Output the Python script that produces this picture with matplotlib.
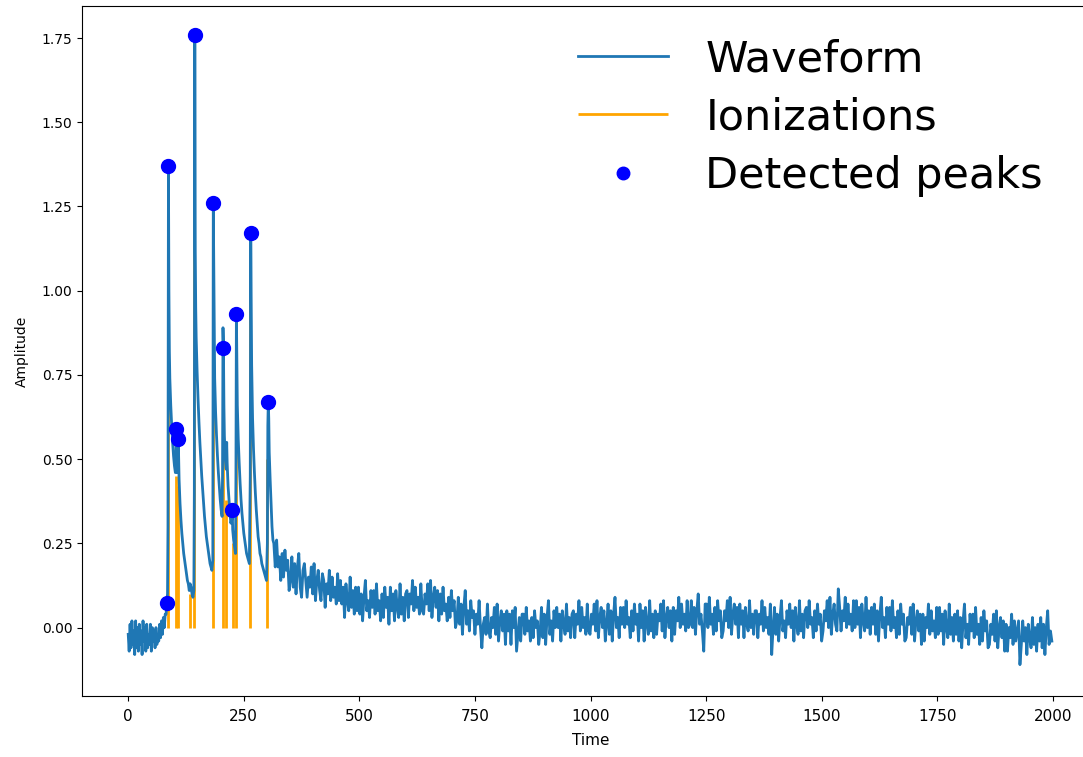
import numpy as np
import matplotlib
matplotlib.use("Agg")
import matplotlib.pyplot as plt

# baseline before the first pulse (t = 0, 2, ..., 80)
pre_t = np.arange(0, 81, 2)
pre_v = [-0.02, -0.07, 0.01, -0.06, 0.02, -0.05, -0.01, -0.08, 0.02, -0.06,
         0.00, -0.07, 0.01, -0.05, -0.01, -0.08, 0.02, -0.04, 0.00, -0.07,
         0.01, -0.06, -0.02, -0.05, 0.01, -0.07, 0.00, -0.04, -0.01, -0.06,
         0.00, -0.05, -0.02, -0.04, 0.01, -0.03, 0.02, -0.02, 0.03, 0.00, 0.04]

# pulse train
pulse_t = [82, 83, 85, 86, 87, 88, 89, 90, 92, 94, 96, 98, 100, 102, 103, 104,
           105, 106, 107, 108, 109, 110, 112, 114, 116, 118, 120, 122, 124, 126,
           128, 130, 132, 134, 136, 138, 140, 142, 143, 144, 145, 146, 147, 149,
           151, 153, 155, 157, 159, 161, 163, 165, 167, 169, 171, 173, 175, 177,
           179, 181, 183, 184, 185, 186, 187, 189, 191, 193, 195, 197, 199, 201,
           203, 204, 205, 206, 207, 208, 210, 212, 213, 214, 216, 218, 220, 222,
           224, 225, 226, 228, 230, 232, 233, 234, 235, 236, 238, 240, 242, 244,
           246, 248, 250, 252, 254, 256, 258, 260, 262, 264, 265, 266, 267, 269,
           271, 273, 275, 277, 279, 281, 283, 285, 287, 289, 291, 293, 295, 297,
           299, 301, 302, 303, 304, 305, 307, 309, 311, 313]
pulse_v = [0.04, 0.07, 0.10, 0.30, 1.37, 1.00, 0.82, 0.74, 0.66, 0.60, 0.55, 0.51,
           0.48, 0.46, 0.50, 0.59, 0.52, 0.46, 0.48, 0.56, 0.51, 0.44, 0.37, 0.32,
           0.28, 0.25, 0.22, 0.20, 0.18, 0.16, 0.14, 0.13, 0.11, 0.13, 0.12, 0.10,
           0.09, 0.11, 0.40, 1.76, 1.12, 0.95, 0.86, 0.76, 0.68, 0.61, 0.55, 0.50,
           0.45, 0.41, 0.37, 0.33, 0.30, 0.27, 0.25, 0.23, 0.21, 0.19, 0.18, 0.17,
           0.20, 1.26, 1.08, 0.86, 0.74, 0.64, 0.57, 0.51, 0.46, 0.42, 0.38, 0.35,
           0.33, 0.45, 0.89, 0.83, 0.66, 0.57, 0.50, 0.47, 0.55, 0.49, 0.42, 0.38,
           0.34, 0.31, 0.32, 0.35, 0.29, 0.26, 0.24, 0.22, 0.45, 0.93, 0.78, 0.66,
           0.56, 0.49, 0.43, 0.38, 0.34, 0.31, 0.28, 0.26, 0.24, 0.22, 0.21, 0.20,
           0.19, 0.45, 1.17, 0.95, 0.78, 0.62, 0.53, 0.46, 0.40, 0.35, 0.31, 0.27,
           0.25, 0.22, 0.21, 0.19, 0.18, 0.17, 0.16, 0.15, 0.14, 0.25, 0.60, 0.67,
           0.62, 0.52, 0.44, 0.37, 0.30, 0.26]

# tail (t = 315, 318, ..., 1998)
tail_t = np.arange(315, 1999, 3)
tail_v = [
    0.25, 0.18, 0.26, 0.18, 0.21, 0.14, 0.22, 0.15, 0.23, 0.17, 0.20, 0.11,
    0.14, 0.21, 0.12, 0.19, 0.10, 0.18, 0.22, 0.12, 0.09, 0.17, 0.19, 0.14,
    0.09, 0.15, 0.12, 0.18, 0.10, 0.19, 0.08, 0.14, 0.17, 0.11, 0.08, 0.16,
    0.14, 0.06, 0.13, 0.10, 0.17, 0.08, 0.15, 0.09, 0.12, 0.07, 0.16, 0.08,
    0.14, 0.07, 0.12, 0.03, 0.13, 0.08, 0.05, 0.15, 0.06, 0.11, 0.04, 0.12,
    0.05, 0.12, 0.04, 0.10, 0.02, 0.09, 0.14, 0.05, 0.08, 0.03, 0.11, 0.06,
    0.11, 0.04, 0.13, 0.05, 0.08, 0.02, 0.10, 0.03, 0.12, 0.06, 0.09, 0.01,
    0.12, 0.05, 0.10, 0.02, 0.11, 0.06, 0.03, 0.13, 0.04, 0.09, 0.02, 0.10,
    0.11, 0.03, 0.10, 0.07, 0.14, 0.05, 0.12, 0.06, 0.09, 0.04, 0.13, 0.05,
    0.04, 0.10, 0.07, 0.13, 0.05, 0.14, 0.03, 0.09, 0.12, 0.06, 0.11, 0.02,
    0.10, 0.04, 0.12, 0.05, 0.07, 0.02, 0.09, 0.03, 0.11, 0.05, 0.08, 0.00,
    0.02, 0.09, 0.01, 0.07, -0.02, 0.06, 0.11, 0.01, 0.05, -0.01, 0.08, 0.03,
    0.05, -0.02, 0.04, 0.01, 0.08, 0.00, -0.06, 0.01, 0.03, -0.02, 0.07, -0.01,
    -0.03, 0.03, 0.00, 0.06, -0.02, 0.07, -0.04, 0.02, 0.05, -0.01, 0.04, -0.05,
    0.05, -0.01, 0.04, -0.05, 0.05, 0.00, 0.06, -0.07, -0.02, 0.03, -0.04, 0.04,
    0.04, -0.02, 0.06, -0.01, 0.02, -0.04, 0.03, -0.03, 0.05, 0.00, 0.02, -0.05,
    -0.01, 0.06, -0.03, 0.04, -0.05, 0.03, 0.08, -0.02, 0.02, -0.04, 0.05, 0.00,
    0.06, 0.00, 0.04, -0.04, 0.05, 0.01, -0.02, 0.07, -0.01, 0.03, -0.03, 0.04,
    0.05, -0.03, 0.04, 0.01, 0.08, -0.01, 0.06, 0.00, 0.03, -0.02, 0.07, -0.01,
    -0.02, 0.04, 0.01, 0.07, -0.01, 0.08, -0.03, 0.03, 0.06, 0.00, 0.05, -0.04,
    0.01, 0.07, -0.02, 0.05, -0.04, 0.04, 0.09, 0.00, 0.03, -0.03, 0.06, 0.01,
    0.06, 0.00, 0.08, 0.01, 0.03, -0.03, 0.05, -0.01, 0.07, 0.01, 0.04, -0.04,
    0.07, 0.00, 0.05, -0.04, 0.06, 0.01, -0.02, 0.08, -0.01, 0.04, -0.03, 0.05,
    -0.02, 0.04, 0.02, 0.07, -0.01, 0.08, -0.03, 0.03, 0.06, 0.00, 0.05, -0.04,
    0.06, -0.02, 0.05, 0.02, 0.09, 0.00, 0.07, 0.01, 0.04, -0.01, 0.08, 0.00,
    0.01, 0.08, 0.00, 0.06, -0.02, 0.05, 0.10, 0.01, 0.04, -0.01, -0.07, 0.07,
    0.07, 0.00, 0.09, 0.01, 0.04, -0.02, 0.06, -0.01, 0.08, 0.02, 0.05, -0.03,
    -0.01, 0.05, 0.02, 0.08, 0.00, 0.09, -0.02, 0.04, 0.07, 0.01, 0.06, -0.03,
    0.07, 0.01, 0.05, -0.03, 0.06, 0.01, -0.01, 0.08, 0.00, 0.04, -0.02, 0.05,
    0.05, -0.03, 0.04, 0.01, 0.08, -0.01, 0.06, 0.00, 0.03, -0.02, 0.07, -0.08,
    0.00, 0.06, -0.02, 0.04, -0.04, 0.03, 0.08, -0.01, 0.02, -0.03, 0.05, 0.01,
    0.07, 0.00, 0.05, -0.04, 0.06, 0.01, -0.02, 0.08, -0.01, 0.04, -0.03, 0.05,
    0.06, 0.00, 0.08, 0.01, 0.03, -0.03, 0.05, -0.01, 0.07, 0.01, 0.04, -0.04,
    -0.01, 0.05, 0.02, 0.08, 0.00, 0.09, -0.02, 0.04, 0.07, 0.01, -0.01, 0.115,
    0.06, -0.01, 0.05, 0.02, 0.09, 0.00, 0.07, 0.01, 0.04, -0.01, 0.08, 0.00,
    0.08, 0.01, 0.06, -0.03, 0.07, 0.02, -0.01, 0.09, 0.00, 0.05, -0.02, 0.06,
    0.01, 0.07, -0.02, 0.05, -0.04, 0.04, 0.09, 0.00, 0.03, -0.03, 0.06, 0.01,
    0.06, -0.01, 0.08, 0.00, 0.03, -0.03, 0.05, -0.02, 0.07, 0.01, 0.04, -0.04,
    -0.03, 0.03, 0.01, 0.06, -0.02, 0.07, -0.04, 0.02, 0.05, -0.01, 0.04, -0.05,
    0.04, -0.04, 0.03, 0.00, 0.07, -0.02, 0.05, -0.01, 0.02, -0.03, 0.06, -0.02,
    0.06, -0.01, 0.04, -0.05, 0.05, 0.00, -0.03, 0.07, -0.02, 0.03, -0.04, 0.04,
    -0.02, 0.05, -0.04, 0.03, -0.06, 0.02, 0.07, -0.03, 0.01, -0.05, 0.04, -0.01,
    0.04, -0.03, 0.06, -0.02, 0.01, -0.05, 0.03, -0.04, 0.05, -0.01, 0.02, -0.06,
    -0.05, 0.01, -0.02, 0.04, -0.04, 0.05, -0.06, 0.00, 0.03, -0.03, 0.02, -0.07,
    0.01, -0.07, 0.00, -0.03, 0.04, -0.05, 0.02, -0.04, -0.01, 0.02, -0.11, -0.05,
    0.02, -0.04, 0.00, -0.08, 0.01, -0.03, -0.06, 0.03, -0.05, 0.00, -0.07, 0.01,
    -0.04, 0.03, -0.06, 0.01, -0.08, 0.00, 0.05, -0.05, -0.01, -0.04]

# ionizations (time, height)
ion_t = [86, 103, 108, 134, 143, 183, 205, 212, 226, 233, 264, 301]
ion_h = [1.30, 0.45, 0.42, 0.10, 1.65, 1.10, 0.59, 0.38, 0.25, 0.70, 1.00, 0.50]

# detected peaks
peak_t = [83, 87, 104, 108, 144, 184, 206, 225, 234, 265, 303]
peak_a = [0.073, 1.37, 0.59, 0.56, 1.76, 1.26, 0.83, 0.35, 0.93, 1.17, 0.67]

time = np.concatenate([pre_t, pulse_t, tail_t])
wave = np.concatenate([pre_v, pulse_v, tail_v])

fig = plt.figure(figsize=(10.83, 7.57), dpi=100)
ax = fig.add_axes([82 / 1083, 61 / 757, 1017 / 1083, 690 / 757])

ax.plot(time, wave, color="#1f77b4", lw=2, label="Waveform", zorder=3)
ax.vlines(ion_t, 0, ion_h, color="orange", lw=2, label="Ionizations", zorder=2)
ax.plot(peak_t, peak_a, "o", color="blue", ms=10, label="Detected peaks", zorder=4)

ax.set_xlim(-100, 2100)
ax.set_ylim(-0.203, 1.845)
ax.set_xticks(np.arange(0, 2001, 250))
ax.set_yticks(np.arange(0, 1.76, 0.25))
ax.tick_params(axis="y", labelsize=10)
ax.tick_params(axis="x", labelsize=11, pad=6)
ax.set_xlabel("Time", fontsize=11, labelpad=6)
ax.set_ylabel("Amplitude", fontsize=10, labelpad=9)

fig.legend(loc="upper left", bbox_to_anchor=(578 / 1083, 1 - 38 / 757),
           frameon=False, fontsize=31, borderpad=0, borderaxespad=0,
           handlelength=2.1, labelspacing=0.38, handletextpad=0.86,
           markerscale=0.9)

fig.savefig("out.png", dpi=100)
